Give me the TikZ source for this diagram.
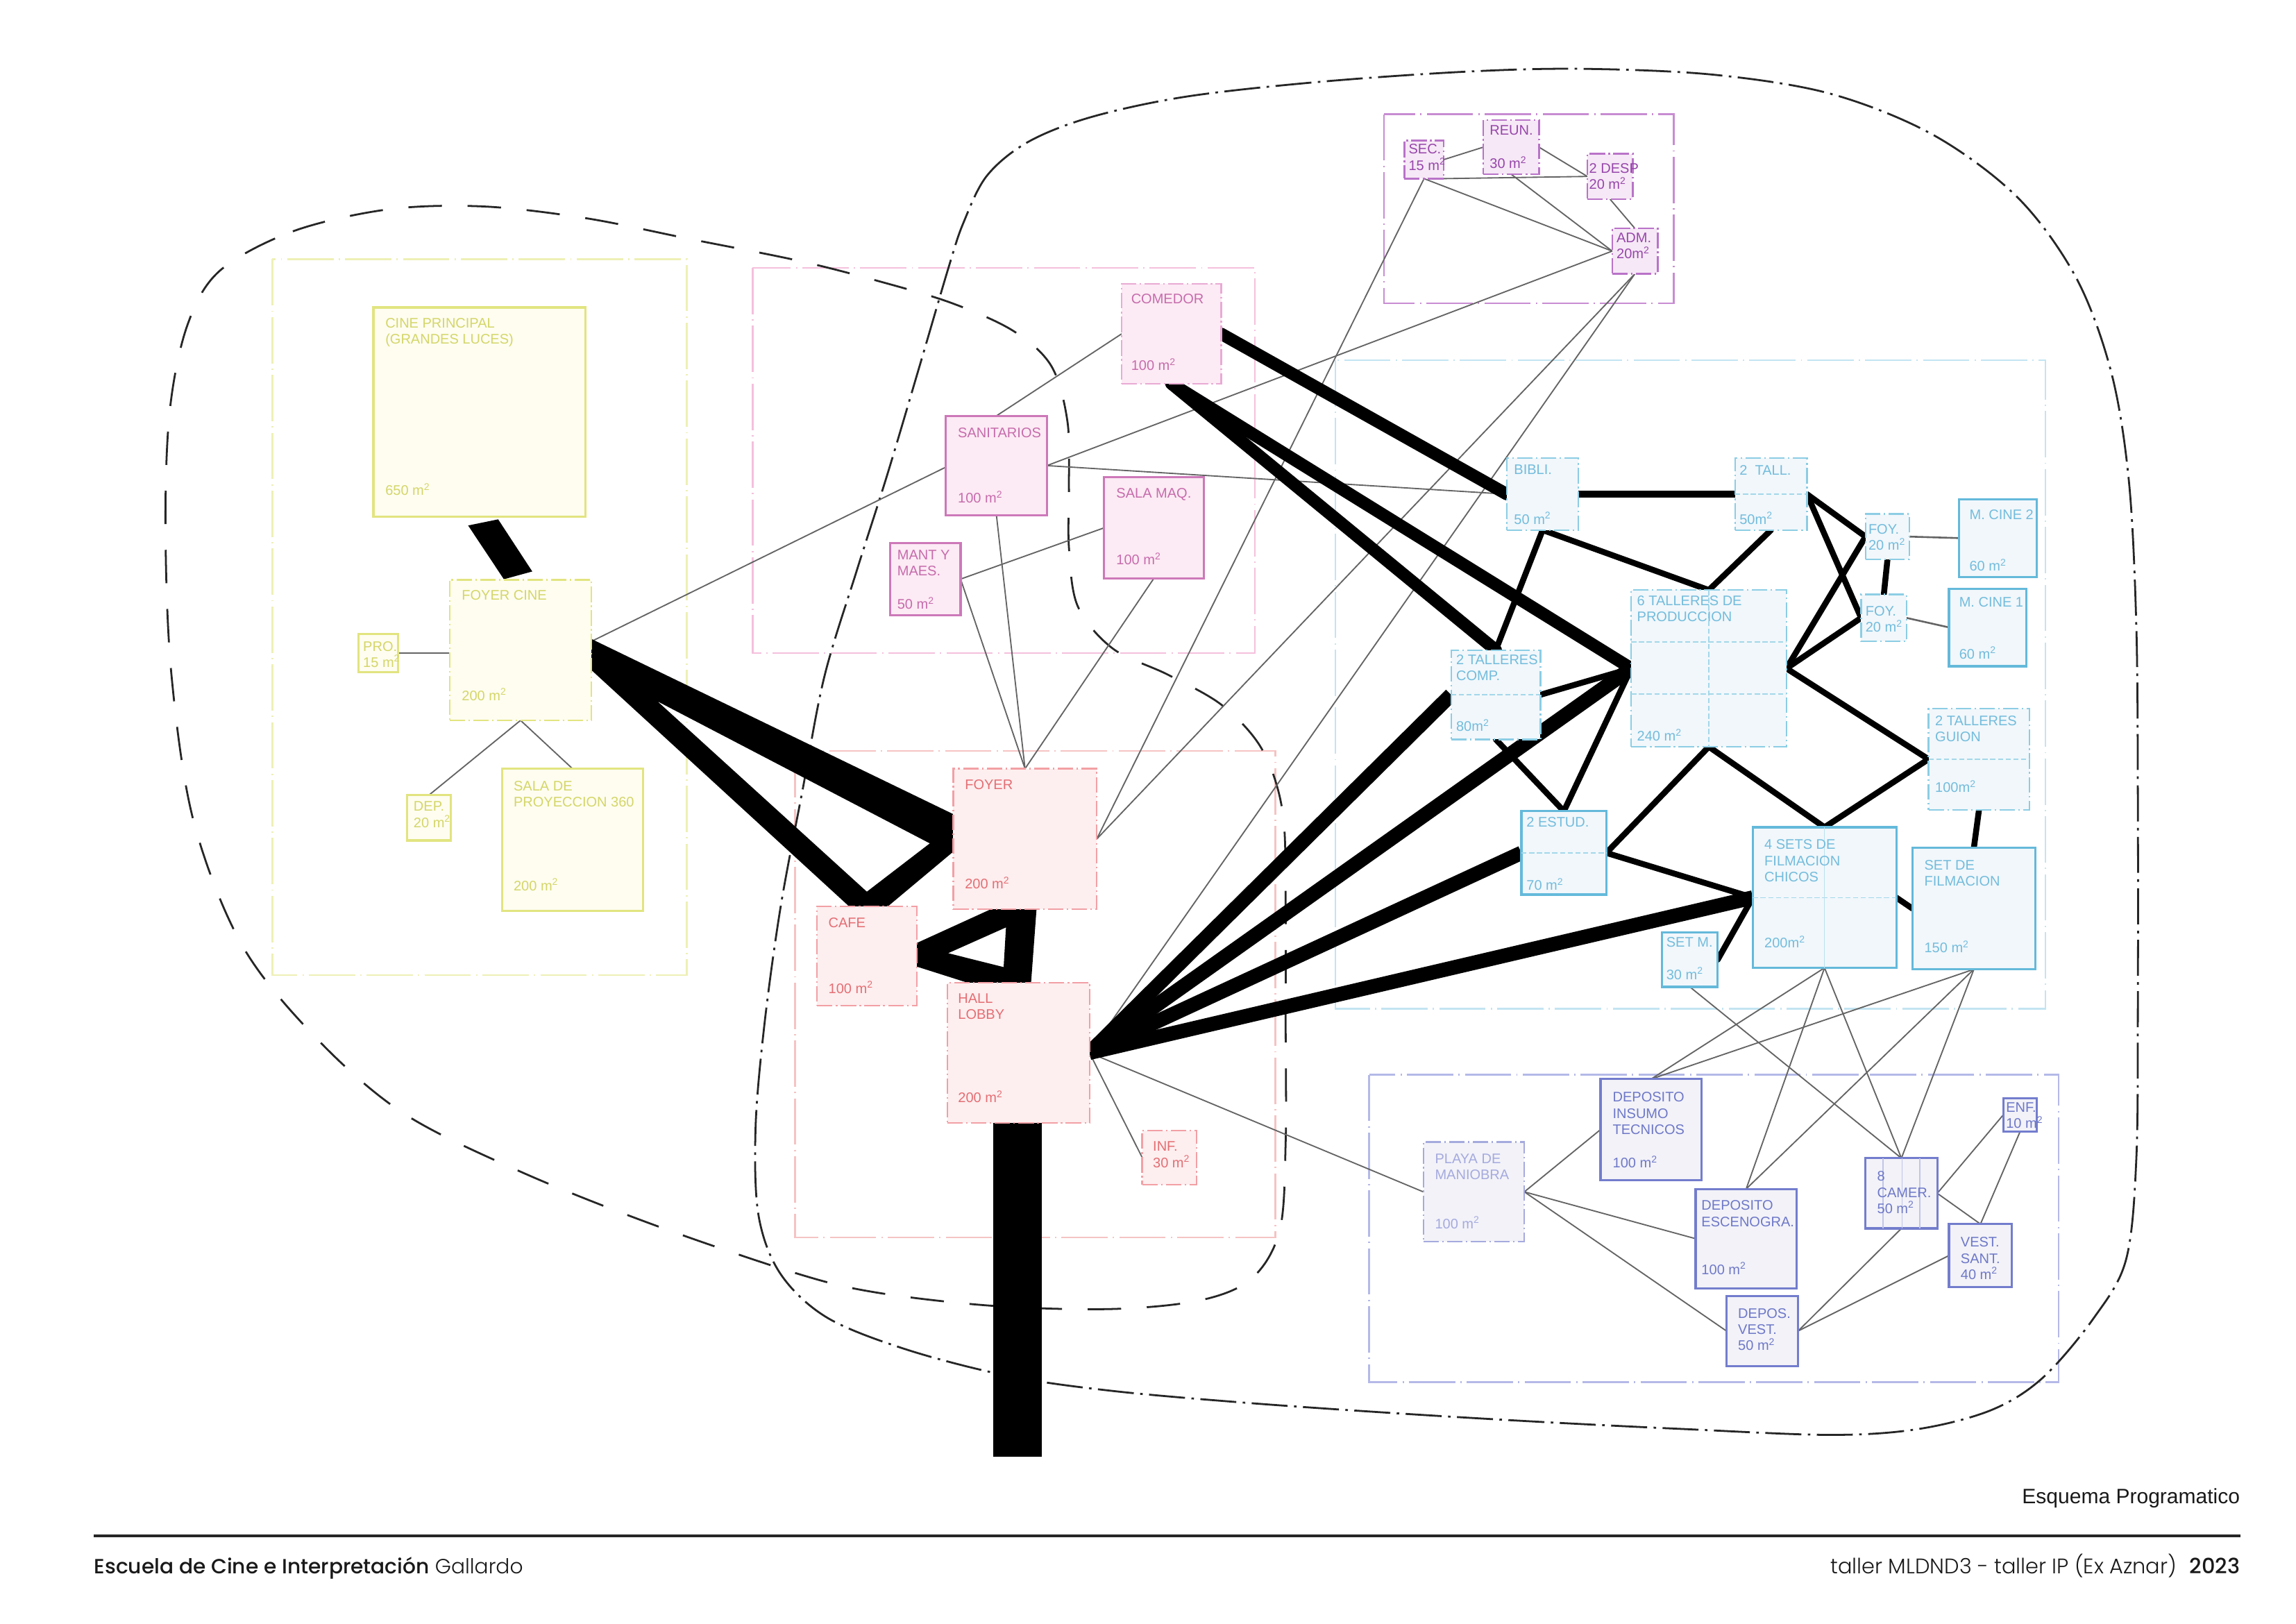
\documentclass[tikz,border=0pt]{standalone}
\usepackage{fontspec}
\setmainfont{Liberation Sans}
\IfFontExistsTF{Poppins Medium}{\newfontfamily\popm{Poppins Medium}}{\newfontfamily\popm{Poppins}}
\IfFontExistsTF{Poppins Light}{\newfontfamily\popl{Poppins Light}}{\newfontfamily\popl{Poppins}}
\pgfdeclarelayer{bg}
\pgfdeclarelayer{conn}
\pgfsetlayers{bg,conn,main}
\definecolor{yelB}{RGB}{226,228,128}
\definecolor{yelT}{RGB}{212,214,105}
\definecolor{yelF}{RGB}{254,253,240}
\definecolor{yelR}{RGB}{238,240,182}
\definecolor{pinB}{RGB}{205,120,185}
\definecolor{pinB2}{RGB}{232,170,212}
\definecolor{pinT}{RGB}{198,108,172}
\definecolor{pinF}{RGB}{252,234,244}
\definecolor{pinR}{RGB}{244,192,220}
\definecolor{admB}{RGB}{185,115,200}
\definecolor{admT}{RGB}{150,70,170}
\definecolor{admF}{RGB}{246,232,246}
\definecolor{admR}{RGB}{200,140,210}
\definecolor{redB}{RGB}{242,160,165}
\definecolor{redT}{RGB}{228,110,115}
\definecolor{redF}{RGB}{253,238,239}
\definecolor{redR}{RGB}{246,195,195}
\definecolor{bluB}{RGB}{140,205,228}
\definecolor{bluB2}{RGB}{100,185,218}
\definecolor{bluT}{RGB}{115,188,220}
\definecolor{bluF}{RGB}{241,247,251}
\definecolor{bluR}{RGB}{195,228,242}
\definecolor{lowB}{RGB}{115,125,205}
\definecolor{lowB2}{RGB}{165,170,222}
\definecolor{lowT}{RGB}{110,120,200}
\definecolor{lowF}{RGB}{242,242,248}
\definecolor{lowR}{RGB}{180,185,232}
\definecolor{thinC}{RGB}{100,100,100}
\newcommand\mtwo{m\textsuperscript{2}}
\tikzset{
 region/.style={line width=0.6pt, dash pattern=on 18pt off 2pt on 0.5pt off 2pt},
 ddot/.style={dash pattern=on 6pt off 1.3pt on 0.6pt off 1.3pt},
 rb/.style={inner sep=0pt, outer sep=0pt, anchor=north west},
 yS/.style={rb, draw=yelB, fill=yelF, line width=0.85pt},
 yD/.style={rb, draw=yelB, fill=yelF, line width=0.6pt, ddot},
 pS/.style={rb, draw=pinB, fill=pinF, line width=0.85pt},
 pD/.style={rb, draw=pinB2, fill=pinF, line width=0.6pt, ddot},
 aD/.style={rb, draw=admB, fill=admF, line width=0.7pt, ddot},
 rD/.style={rb, draw=redB, fill=redF, line width=0.6pt, ddot},
 bD/.style={rb, draw=bluB, fill=bluF, line width=0.6pt, ddot},
 bS/.style={rb, draw=bluB2, fill=bluF, line width=0.85pt},
 lS/.style={rb, draw=lowB, fill=lowF, line width=0.85pt},
 lD/.style={rb, draw=lowB2, fill=lowF, line width=0.6pt, ddot},
 lbl/.style={inner sep=0pt, outer sep=0pt, align=left, font=\fontsize{5.4}{6.3}\selectfont},
 thinl/.style={draw=thinC, line width=0.5pt},
 bthk/.style={draw=black, line width=2.3pt, line cap=round},
 cthk/.style={draw=black, line width=4.8pt, line cap=round},
 hthk/.style={draw=black, line width=5.6pt},
 inl/.style={draw=bluB!80, line width=0.35pt, dash pattern=on 2pt off 1pt},
 bigdash/.style={draw=black!85, line width=0.75pt, dash pattern=on 13pt off 10pt},
 bigdd/.style={draw=black!85, line width=0.75pt, dash pattern=on 14pt off 2.5pt on 1pt off 2.5pt},
}
\newcommand\rbox[6]{\node[#2, minimum width={(#5-#3)*0.02cm}, minimum height={(#6-#4)*0.02cm}] (#1) at (#3,#4) {};}
\newcommand\rtl[5]{\node[lbl, text=#2, anchor=north west] (#1-t) at ([shift={(#3,#4)}]#1.north west) {#5};}
\newcommand\rar[5]{\node[lbl, text=#2, anchor=base west] (#1-a) at ([shift={(#3,-#4)}]#1.south west) {#5};}
\begin{document}
\begin{tikzpicture}[x=0.02cm,y=-0.02cm]
\begin{pgfonlayer}{bg}
\fill[white] (0,0) rectangle (1568,1109);
\end{pgfonlayer}
\useasboundingbox (0,0) rectangle (1568,1109);

% ---------- rooms ----------
\rbox{cine}{yS}{255}{210}{400}{353}
\rbox{foyc}{yD}{307}{396}{404}{492}
\rbox{pro}{yS}{245}{433}{272}{459}
\rbox{dep}{yS}{278}{543}{308}{574}
\rbox{sala}{yS}{343}{525}{439}{622}
\rbox{comedor}{pD}{766}{194}{834}{262}
\rbox{sanit}{pS}{646}{284}{715}{352}
\rbox{salamaq}{pS}{754}{326}{822}{395}
\rbox{mant}{pS}{608}{371}{656}{420}
\rbox{sec}{aD}{959}{96}{986}{122}
\rbox{reun}{aD}{1013}{82}{1051}{119}
\rbox{desp}{aD}{1084}{105}{1115}{136}
\rbox{adm}{aD}{1101}{156}{1132}{187}
\rbox{foyer}{rD}{651}{525}{749}{621}
\rbox{cafe}{rD}{558}{619}{626}{687}
\rbox{hall}{rD}{647}{671}{744}{767}
\rbox{inf}{rD}{780}{772}{817}{809}
\rbox{bibli}{bD}{1029}{313}{1078}{362}
\rbox{tall2}{bD}{1185}{313}{1234}{362}
\rbox{foyu}{bD}{1274}{351}{1304}{382}
\rbox{foyl}{bD}{1271}{406}{1302}{438}
\rbox{mc2}{bS}{1338}{341}{1391}{394}
\rbox{mc1}{bS}{1331}{402}{1384}{455}
\rbox{tall6}{bD}{1114}{403}{1220}{510}
\rbox{comp}{bD}{991}{444}{1052}{505}
\rbox{guion}{bD}{1317}{484}{1386}{553}
\rbox{estud}{bS}{1039}{554}{1097}{611}
\rbox{sets4}{bS}{1197}{565}{1295}{661}
\rbox{setf}{bS}{1306}{579}{1390}{662}
\rbox{setm}{bS}{1135}{637}{1173}{674}
\rbox{playa}{lD}{972}{780}{1041}{848}
\rbox{depins}{lS}{1093}{737}{1162}{806}
\rbox{depesc}{lS}{1158}{812}{1227}{880}
\rbox{depv}{lS}{1179}{885}{1228}{933}
\rbox{camer}{lS}{1274}{791}{1323}{839}
\rbox{enf}{lS}{1368}{750}{1391}{773}
\rbox{vsant}{lS}{1331}{836}{1374}{879}

% ---------- background: regions and outlines ----------
\begin{pgfonlayer}{bg}
\draw[region, draw=yelR] (186,177) rectangle (469,666);
\draw[region, draw=pinR] (514,183) rectangle (857,446);
\draw[region, draw=admR] (945,78) rectangle (1143,207);
\draw[region, draw=redR] (543,513) rectangle (871,845);
\draw[region, draw=bluR] (912,246) rectangle (1397,689);
\draw[region, draw=lowR] (935,734) rectangle (1406,944);
\draw[bigdash] plot[smooth cycle, tension=0.55] coordinates {
 (150,185) (200,158) (265,143) (330,141) (400,149) (470,163) (545,178) (600,192)
 (650,207) (692,226) (718,250) (729,288) (730,333) (730,374) (736,414) (760,443)
 (798,461) (835,482) (862,512) (876,555) (878,620) (878,700) (878,780) (874,840)
 (855,873) (820,888) (760,894) (680,892) (600,883) (545,870) (445,836) (355,800)
 (275,760) (215,708) (165,645) (132,560) (117,460) (113,360) (116,280) (128,222)};
\draw[bigdd] plot[smooth cycle, tension=0.55] coordinates {
 (658,152) (674,120) (702,97) (745,80) (810,66) (900,56) (1000,49) (1080,47)
 (1170,51) (1250,64) (1320,92) (1378,135) (1418,190) (1442,255) (1454,330)
 (1459,430) (1460,550) (1460,680) (1459,790) (1452,860) (1430,900) (1395,941)
 (1360,963) (1310,976) (1250,980) (1150,976) (1050,971) (950,965) (850,958)
 (760,950) (690,940) (620,922) (565,900) (533,870) (518,830) (516,770) (522,700)
 (533,620) (548,540) (563,462) (585,390) (606,324) (628,250) (648,182)};
\end{pgfonlayer}

% ---------- connectors ----------
\begin{pgfonlayer}{conn}
\draw[thinl] (pro.east) -- (pro.east -| foyc.west);
\draw[thinl] (foyc.south) -- (dep.north);
\draw[thinl] (foyc.south) -- (sala.north);
\draw[thinl] ([shift={(0,42)}]foyc.north east) -- ([shift={(0,35)}]sanit.north west);
\draw[thinl] (comedor.west) -- (sanit.north);
\draw[thinl] (mant.east) -- (salamaq.west);
\draw[thinl] (mant.east) -- (foyer.north);
\draw[thinl] (sanit.south) -- (foyer.north);
\draw[thinl] (salamaq.south) -- (foyer.north);
\draw[thinl] (sanit.east) -- (adm.west);
\draw[thinl] (sanit.east) -- (bibli.west);
\draw[thinl] (foyer.east) -- (sec.south);
\draw[thinl] (foyer.east) -- (adm.south);
\draw[thinl] (hall.east) -- (adm.south);
\draw[thinl] (hall.east) -- (inf.west);
\draw[thinl] (hall.east) -- (playa.west);
\draw[thinl] (sec.east) -- (reun.west);
\draw[thinl] (reun.east) -- (desp.west);
\draw[thinl] (sec.south east) -- (desp.west);
\draw[thinl] (sec.south) -- (adm.west);
\draw[thinl] (reun.south) -- (adm.west);
\draw[thinl] (desp.south) -- (adm.north);
\draw[thinl, line width=0.7pt] (foyu.east) -- (mc2.west);
\draw[thinl, line width=0.7pt] (foyl.east) -- (mc1.west);
\foreach \t in {depins,depesc,depv} \draw[thinl] (playa.east) -- (\t.west);
\foreach \s in {sets4,setf} {\foreach \t in {depins,depesc,camer} {\draw[thinl] (\s.south) -- (\t.north);}}
\draw[thinl] (setm.south) -- (camer.north);
\draw[thinl] (depv.east) -- (camer.south);
\draw[thinl] (depv.east) -- (vsant.west);
\draw[thinl] (camer.east) -- (enf.west);
\draw[thinl] (camer.east) -- (vsant.north);
\draw[thinl] (enf.south) -- (vsant.north);

% heavy links
\fill ([shift={(64.7,5.9)}]cine.south west) -- ([shift={(85.2,1.7)}]cine.south west)
   -- ([shift={(56.5,-5.7)}]foyc.north west) -- ([shift={(37.1,-0.4)}]foyc.north west) -- cycle;
\fill[even odd rule] ([shift={(-3,39)}]foyc.north east) -- ([shift={(2,32)}]foyer.north west)
   -- ([shift={(2,55)}]foyer.north west) -- ([shift={(46,2)}]cafe.north west)
   -- ([shift={(24,2)}]cafe.north west) -- ([shift={(-3,59)}]foyc.north east) -- cycle
   ([shift={(45,83)}]foyc.north east) -- ([shift={(-16,51)}]foyer.north west)
   -- ([shift={(34,-10)}]cafe.north west) -- cycle;
\fill[even odd rule] ([shift={(-2,26)}]cafe.north east) -- ([shift={(30,-2)}]foyer.south west)
   -- ([shift={(57,-2)}]foyer.south west) -- ([shift={(57,2)}]hall.north west)
   -- ([shift={(19.5,2)}]hall.north west) -- ([shift={(-2,40.5)}]cafe.north east) -- cycle
   ([shift={(21.5,32)}]cafe.north east) -- ([shift={(36,12.4)}]foyer.south west)
   -- ([shift={(38.4,-10.5)}]hall.north west) -- cycle;
\fill ([shift={(-17,-2)}]hall.south) rectangle ([shift={(16,228)}]hall.south);
\draw[cthk] (comedor.east) -- (bibli.west);
\draw[cthk] (comedor.south) -- (comp.north);
\draw[cthk] (comedor.south) -- (tall6.west);
\foreach \t in {comp,tall6,estud,sets4} \draw[hthk] (hall.east) -- (\t.west);
\draw[bthk, line width=2.8pt] (bibli.east) -- (tall2.west);
\draw[bthk] (bibli.south) -- (comp.north);
\draw[bthk] (bibli.south) -- (tall6.north);
\draw[bthk] (tall2.south) -- (tall6.north);
\draw[bthk] (tall2.east) -- (foyu.west);
\draw[bthk] (tall2.east) -- (foyl.west);
\draw[bthk] (foyu.west) -- (tall6.east);
\draw[bthk] (foyl.west) -- (tall6.east);
\draw[bthk] (foyu.south) -- (foyl.north);
\draw[bthk] (tall6.east) -- (guion.west);
\draw[bthk] (guion.west) -- (sets4.north);
\draw[bthk] (tall6.south) -- (estud.east);
\draw[bthk] (tall6.south) -- (sets4.north);
\draw[bthk] (comp.east) -- (tall6.west);
\draw[bthk] (comp.south) -- (estud.north);
\draw[bthk] (tall6.west) -- (estud.north);
\draw[bthk] (estud.east) -- (sets4.west);
\draw[bthk] (setm.east) -- (sets4.west);
\draw[bthk] (sets4.east) -- (setf.west);
\draw[bthk] (guion.south) -- (setf.north);
\end{pgfonlayer}

% ---------- internal subdivisions ----------
\draw[inl] (tall2.west) -- (tall2.east);
\draw[inl] (tall6.north) -- (tall6.south);
\draw[inl] ([shift={(0,35.5)}]tall6.north west) -- ([shift={(0,35.5)}]tall6.north east);
\draw[inl] ([shift={(0,71)}]tall6.north west) -- ([shift={(0,71)}]tall6.north east);
\draw[inl] (comp.west) -- (comp.east);
\draw[inl] (guion.west) -- (guion.east);
\draw[inl] (estud.west) -- (estud.east);
\draw[inl] (sets4.west) -- (sets4.east);
\draw[draw=bluB!60, line width=0.35pt] (sets4.north) -- (sets4.south);
\foreach \d in {12,25,37} \draw[draw=lowB!45, line width=0.4pt] ([shift={(\d,0)}]camer.north west) -- ([shift={(\d,0)}]camer.south west);

% ---------- labels ----------
\rtl{cine}{yelT}{8.2}{7.4}{CINE PRINCIPAL\\(GRANDES LUCES)}
\rar{cine}{yelT}{8.2}{14.7}{650 \mtwo}
\rtl{foyc}{yelT}{8.4}{7.3}{FOYER CINE}
\rar{foyc}{yelT}{8.4}{13.6}{200 \mtwo}
\rtl{pro}{yelT}{3}{5}{PRO.\\15 \mtwo}
\rtl{dep}{yelT}{4.5}{4.5}{DEP.\\20 \mtwo}
\rtl{sala}{yelT}{7.8}{8.3}{SALA DE\\PROYECCION 360}
\rar{sala}{yelT}{7.8}{13.8}{200 \mtwo}

\rtl{comedor}{pinT}{6.5}{6.7}{COMEDOR}
\rar{comedor}{pinT}{6.5}{9}{100 \mtwo}
\rtl{sanit}{pinT}{8.2}{8}{SANITARIOS}
\rar{sanit}{pinT}{8.2}{8.6}{100 \mtwo}
\rtl{salamaq}{pinT}{8.4}{7.7}{SALA MAQ.}
\rar{salamaq}{pinT}{8.4}{9.4}{100 \mtwo}
\rtl{mant}{pinT}{4.8}{4.6}{MANT Y\\MAES.}
\rar{mant}{pinT}{4.8}{4}{50 \mtwo}

\rtl{sec}{admT}{3}{2.5}{SEC.\\15 \mtwo}
\rtl{reun}{admT}{4.4}{3.6}{REUN.}
\rar{reun}{admT}{4.4}{4}{30 \mtwo}
\rtl{desp}{admT}{1.3}{6.5}{2 DESP\\20 \mtwo}
\rtl{adm}{admT}{3}{3}{ADM.\\20\mtwo}

\rtl{foyer}{redT}{8}{7.7}{FOYER}
\rar{foyer}{redT}{8}{14}{200 \mtwo}
\rtl{cafe}{redT}{7.8}{7.7}{CAFE}
\rar{cafe}{redT}{7.8}{8.6}{100 \mtwo}
\rtl{hall}{redT}{7.3}{7.6}{HALL\\LOBBY}
\rar{hall}{redT}{7.3}{14}{200 \mtwo}
\rtl{inf}{redT}{7.4}{7.7}{INF.\\30 \mtwo}

\rtl{bibli}{bluT}{5}{4.6}{BIBLI.}
\rar{bibli}{bluT}{5}{4}{50 \mtwo}
\rtl{tall2}{bluT}{3}{4.6}{2~~TALL.}
\rar{tall2}{bluT}{3}{4}{50\mtwo}
\rtl{foyu}{bluT}{2}{7}{FOY.\\20 \mtwo}
\rtl{foyl}{bluT}{3}{8}{FOY.\\20 \mtwo}
\rtl{mc2}{bluT}{7}{7}{M. CINE 2}
\rar{mc2}{bluT}{7}{4}{60 \mtwo}
\rtl{mc1}{bluT}{7}{6}{M. CINE 1}
\rar{mc1}{bluT}{7}{5}{60 \mtwo}
\rtl{tall6}{bluT}{4}{4}{6 TALLERES DE\\PRODUCCION}
\rar{tall6}{bluT}{4}{4}{240 \mtwo}
\rtl{comp}{bluT}{3.5}{3}{2 TALLERES\\COMP.}
\rar{comp}{bluT}{3.5}{5.5}{80\mtwo}
\rtl{guion}{bluT}{4.6}{4.7}{2 TALLERES\\GUION}
\rar{guion}{bluT}{4.6}{11.7}{100\mtwo}
\rtl{estud}{bluT}{3.5}{4}{2 ESTUD.}
\rar{estud}{bluT}{3.5}{3}{70 \mtwo}
\rtl{sets4}{bluT}{8}{8.5}{4 SETS DE\\FILMACION\\CHICOS}
\rar{sets4}{bluT}{8}{13.6}{200\mtwo}
\rtl{setf}{bluT}{8.2}{8.3}{SET DE\\FILMACION}
\rar{setf}{bluT}{8.2}{11.4}{150 \mtwo}
\rtl{setm}{bluT}{3}{3}{SET M.}
\rar{setm}{bluT}{3}{5}{30 \mtwo}

\rtl{playa}{lowB2}{8}{8}{PLAYA DE\\MANIOBRA}
\rar{playa}{lowB2}{8}{9}{100 \mtwo}
\rtl{depins}{lowT}{8.4}{9}{DEPOSITO\\INSUMO\\TECNICOS}
\rar{depins}{lowT}{8.4}{8.5}{100 \mtwo}
\rtl{depesc}{lowT}{4}{8}{DEPOSITO\\ESCENOGRA.}
\rar{depesc}{lowT}{4}{9.6}{100 \mtwo}
\rtl{depv}{lowT}{8}{8.6}{DEPOS.\\VEST.\\50 \mtwo}
\rtl{camer}{lowT}{8}{9}{8\\CAMER.\\50 \mtwo}
\rtl{enf}{lowT}{2}{3}{ENF.\\10 \mtwo}
\rtl{vsant}{lowT}{8}{9}{VEST.\\SANT.\\40 \mtwo}

% ---------- footer ----------
\coordinate (rl) at (64,1049);
\coordinate (rr) at (1530,1049);
\draw[line width=0.9pt, black!85] (rl) -- (rr);
\node[anchor=base east, inner sep=0pt, font=\fontsize{8.1}{9}\selectfont, text=black!90] (esq) at (1530,1027) {Esquema Programatico};
\node[anchor=base west, inner sep=0pt, font=\fontsize{8.0}{9}\selectfont, text=black!90] (foot1) at (64,1075) {{\popm Escuela de Cine e Interpretación} {\popl Gallardo}};
\node[anchor=base east, inner sep=0pt, font=\fontsize{8.2}{9}\selectfont, text=black!90] (foot2) at (1530,1075) {{\popl taller MLDND3 - taller IP (Ex Aznar)}\hspace{0.6em}{\popm 2023}};
\end{tikzpicture}
\end{document}
